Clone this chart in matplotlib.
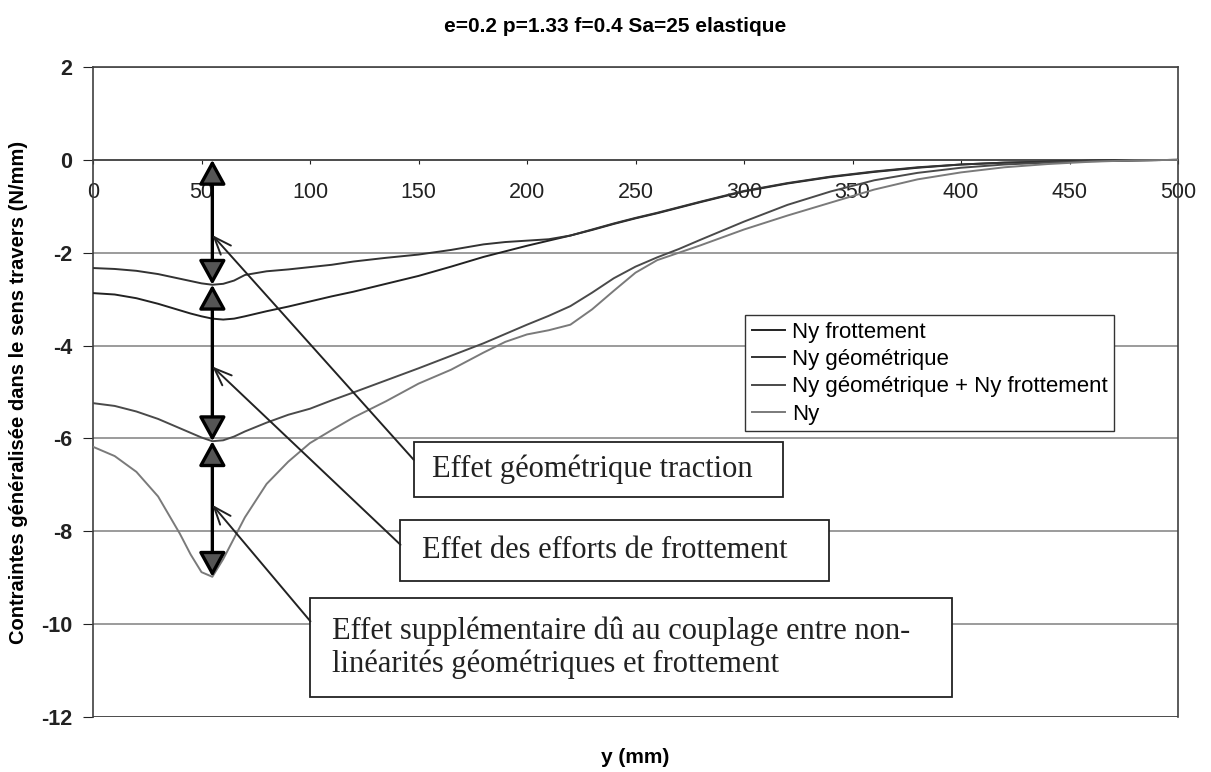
import matplotlib.pyplot as plt
from matplotlib.patches import Rectangle

plt.rcParams['font.family'] = ['Liberation Sans', 'DejaVu Sans']
plt.rcParams['axes.unicode_minus'] = False

# -----------------------------
# Data
# -----------------------------
y_mm = [0, 10, 20, 30, 40, 45, 50, 55, 60, 65, 70, 80, 90, 100, 110, 120, 135, 150,
        165, 180, 190, 200, 210, 220, 230, 240, 250, 260, 270, 280, 300, 320, 340,
        360, 380, 400, 420, 440, 460, 480, 500]

ny_frottement = [-2.87, -2.90, -2.98, -3.10, -3.24, -3.31, -3.37, -3.42, -3.44, -3.42,
                 -3.37, -3.26, -3.16, -3.05, -2.94, -2.84, -2.67, -2.50, -2.30, -2.09,
                 -1.97, -1.85, -1.74, -1.63, -1.51, -1.38, -1.26, -1.15, -1.03, -0.91,
                 -0.68, -0.51, -0.37, -0.26, -0.17, -0.10, -0.06, -0.04, -0.02, -0.01, 0.0]

ny_geometrique = [-2.33, -2.35, -2.39, -2.46, -2.56, -2.61, -2.66, -2.69, -2.67, -2.60,
                  -2.48, -2.40, -2.36, -2.31, -2.26, -2.19, -2.11, -2.04, -1.94, -1.82,
                  -1.77, -1.74, -1.71, -1.63, -1.50, -1.37, -1.25, -1.14, -1.02, -0.90,
                  -0.67, -0.50, -0.36, -0.25, -0.16, -0.10, -0.06, -0.04, -0.02, -0.01, 0.0]

ny_somme = [-5.24, -5.30, -5.42, -5.58, -5.78, -5.88, -5.98, -6.06, -6.04, -5.96,
            -5.85, -5.66, -5.49, -5.36, -5.18, -5.01, -4.75, -4.49, -4.22, -3.95,
            -3.75, -3.55, -3.36, -3.15, -2.86, -2.55, -2.30, -2.10, -1.92, -1.72,
            -1.33, -0.97, -0.68, -0.44, -0.28, -0.17, -0.10, -0.06, -0.03, -0.01, 0.0]

ny_total = [-6.18, -6.38, -6.72, -7.25, -8.05, -8.50, -8.88, -8.98, -8.60, -8.15,
            -7.70, -6.98, -6.50, -6.10, -5.82, -5.55, -5.20, -4.82, -4.52, -4.15,
            -3.92, -3.76, -3.67, -3.55, -3.22, -2.82, -2.43, -2.16, -2.00, -1.84,
            -1.50, -1.20, -0.92, -0.64, -0.42, -0.27, -0.16, -0.09, -0.04, -0.01, 0.0]

labels = ["Ny frottement", "Ny géométrique", "Ny géométrique + Ny frottement", "Ny"]
colors = ["#222222", "#333333", "#4a4a4a", "#7a7a7a"]

x_ticks = list(range(0, 501, 50))
y_ticks = list(range(-12, 3, 2))

# -----------------------------
# Figure
# -----------------------------
fig = plt.figure(figsize=(12.11, 7.72), dpi=100)
ax = fig.add_axes([93 / 1211, 1 - 717 / 772, 1085 / 1211, 650 / 772])

for serie, lab, col in zip([ny_frottement, ny_geometrique, ny_somme, ny_total], labels, colors):
    ax.plot(y_mm, serie, color=col, lw=1.4, label=lab, zorder=3)

ax.set_xlim(0, 500)
ax.set_ylim(-12, 2)
ax.set_xticks(x_ticks)
ax.set_yticks(y_ticks)
ax.grid(axis='y', color='#808080', lw=1.1)
ax.set_axisbelow(True)
ax.axhline(-12, color='#404040', lw=1.2)

# x axis crosses at y = 0 like in Excel
ax.spines['bottom'].set_position(('data', 0))
for s in ax.spines.values():
    s.set_color('#404040')
    s.set_linewidth(1.2)

ax.tick_params(axis='x', direction='out', length=3, pad=13, labelsize=15.5, colors='#222222')
ax.tick_params(axis='y', direction='out', length=7, pad=8, labelsize=15.5, colors='#222222')
for t in ax.get_yticklabels():
    t.set_fontweight('bold')

ax.set_xlabel("y (mm)", fontsize=15, fontweight='bold')
ax.xaxis.set_label_coords(0.5, -0.047)
ax.set_ylabel("Contraintes généralisée dans le sens travers (N/mm)", fontsize=14.5, fontweight='bold')
ax.yaxis.set_label_coords(-0.060, 0.5)

fig.text(615 / 1211, 1 - 26 / 772, "e=0.2 p=1.33 f=0.4 Sa=25 elastique",
         ha='center', va='center', fontsize=15, fontweight='bold')

leg = ax.legend(loc='upper left', bbox_to_anchor=(0.601, 0.618), borderaxespad=0,
                fancybox=False, edgecolor='#333333', fontsize=16, handlelength=1.5,
                handletextpad=0.3, labelspacing=0.28, borderpad=0.3, framealpha=1)
leg.get_frame().set_linewidth(1.0)

# -----------------------------
# Double arrows at y = 55 mm
# -----------------------------
x_fleche = 55
niveaux = [0, min(ny_geometrique), min(ny_somme), min(ny_total)]
for haut, bas in zip(niveaux[:-1], niveaux[1:]):
    ax.annotate('', xy=(x_fleche, haut), xytext=(x_fleche, bas),
                arrowprops=dict(arrowstyle='<|-|>,head_length=1.0,head_width=0.55',
                                mutation_scale=15, lw=2.4, ec='black', fc='#555555',
                                shrinkA=0, shrinkB=0), zorder=6)

# -----------------------------
# Text boxes with pointing arrows
# -----------------------------
serif = ['Liberation Serif', 'DejaVu Serif']
boites = [
    # (x0, x1, y_top, y_bottom, texte, x_texte, pointe_y, depart_y)
    (147.8, 318.0, -6.07, -7.26, "Effet géométrique traction", 156.0, -1.62, -6.46),
    (141.7, 339.0, -7.75, -9.07, "Effet des efforts de frottement", 151.6, -4.45, -8.29),
    (100.2, 395.9, -9.43, -11.57,
     "Effet supplémentaire dû au couplage entre non-\nlinéarités géométriques et frottement",
     110.3, -7.43, -9.94),
]
for x0, x1, yt, yb, texte, xt, py, dy in boites:
    ax.add_patch(Rectangle((x0, yb), x1 - x0, yt - yb, facecolor='white',
                           edgecolor='#222222', lw=1.3, zorder=5))
    ax.text(xt, (yt + yb) / 2, texte, ha='left', va='center', fontsize=22,
            family=serif, color='#222222', linespacing=1.15, zorder=6)
    ax.annotate('', xy=(x_fleche, py), xytext=(x0, dy),
                arrowprops=dict(arrowstyle='->,head_length=0.9,head_width=0.35',
                                mutation_scale=14, lw=1.4, color='#222222',
                                shrinkA=0, shrinkB=0), zorder=6)

fig.savefig("out.png", dpi=100)
